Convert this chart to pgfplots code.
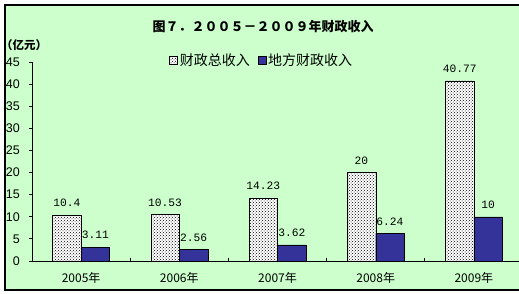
\documentclass[border=0pt]{standalone}
\usepackage{pgfplots}
\pgfplotsset{compat=1.18}
\usetikzlibrary{patterns}
\usepackage{fontspec}
\setmainfont{Liberation Sans}
\newfontfamily\cjk{Noto Sans CJK SC}
\newfontfamily\monof{Liberation Mono}
\definecolor{bgg}{RGB}{204,255,204}
\definecolor{barblue}{RGB}{51,51,153}
\begin{document}
\begin{tikzpicture}[x=1pt,y=1pt]
\clip (0,0) rectangle (519,294);
\fill[white] (0,0) rectangle (519,294);
\filldraw[fill=bgg, draw=black, line width=1.2pt] (5,4) rectangle (530,289);
\node[font=\cjk\bfseries\fontsize{13}{13}\selectfont] at (263,267) {图７．２００５－２００９年财政收入};
\node[anchor=west, font=\cjk\bfseries\fontsize{11.5}{12}\selectfont, inner sep=0pt] at (1,249) {（亿元）};
\begin{axis}[
  at={(32pt,33pt)}, anchor=south west,
  scale only axis, width=491pt, height=199pt,
  /pgf/number format/assume math mode=true,
  ybar=0pt, bar width=28.5pt,
  xmin=-0.5, xmax=4.5, ymin=0, ymax=45,
  enlargelimits=false,
  axis lines=left, axis line style={-, line width=0.8pt, black},
  xtick={0,1,2,3,4},
  xticklabels={2005年,2006年,2007年,2008年,2009年},
  minor xtick={0.5,1.5,2.5,3.5},
  ytick={0,5,...,45},
  tick align=outside, major tick length=2.5pt, minor tick length=3pt,
  tick style={black, line width=0.8pt},
  major x tick style={draw=none},
  minor x tick style={yshift=3pt},
  yticklabel style={font=\fontsize{12.5}{12.5}\selectfont, anchor=east, inner sep=0pt, xshift=-9.5pt},
  xticklabel style={font=\cjk\fontsize{12}{12}\selectfont, anchor=center, inner sep=0pt, yshift=-14.5pt},
  nodes near coords,
  every node near coord/.append style={font=\monof\fontsize{11.25}{12}\selectfont, anchor=center, inner sep=0pt, yshift=12pt},
  legend columns=2,
  legend style={at={(0.468,1.01)}, anchor=center, draw=none, fill=none, inner sep=0pt,
    font=\cjk\fontsize{14}{14}\selectfont,
    /tikz/every even column/.append style={column sep=6pt}},
  legend image code/.code={\draw[#1] (0pt,-4pt) rectangle (8pt,4pt);},
]
\addplot[draw=black, fill=white, postaction={pattern=crosshatch dots}] coordinates {(0,10.4) (1,10.53) (2,14.23) (3,20) (4,40.77)};
\addplot[draw=black, fill=barblue] coordinates {(0,3.11) (1,2.56) (2,3.62) (3,6.24) (4,10)};
\legend{财政总收入,地方财政收入}
\end{axis}
\end{tikzpicture}
\end{document}
